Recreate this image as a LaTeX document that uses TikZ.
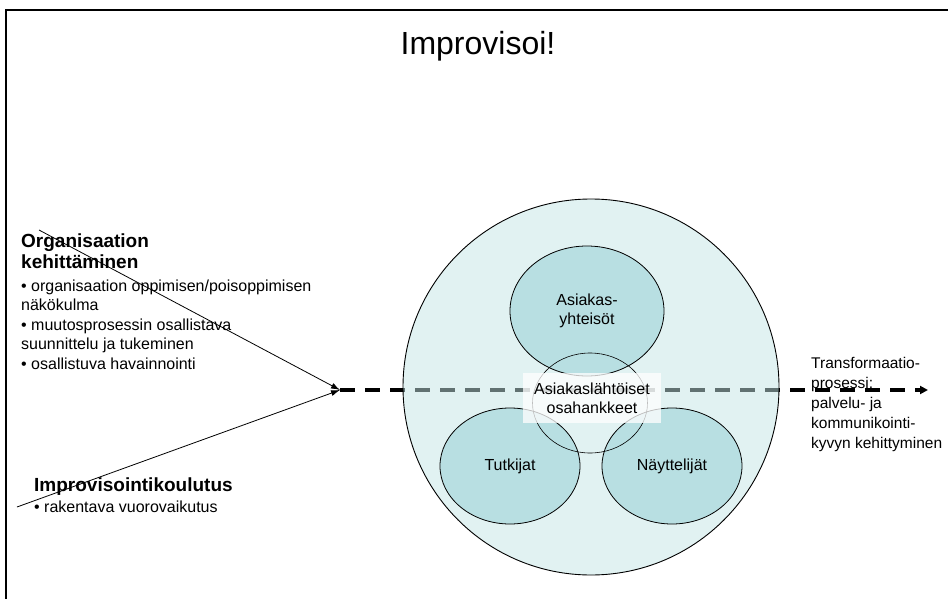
\documentclass[tikz,border=0pt]{standalone}
\usepackage{fontspec}
\setmainfont{Liberation Sans}
\usetikzlibrary{shapes.geometric,arrows.meta}

\definecolor{poolfill}{RGB}{195,229,229}
\definecolor{groupfill}{RGB}{184,223,226}

\begin{document}
\begin{tikzpicture}[x=1pt,y=-1pt,
  pool node/.style={circle,draw,line width=0.9pt,fill=poolfill,fill opacity=0.5,draw opacity=1,minimum size=376pt,inner sep=0pt},
  group node/.style={ellipse,draw,line width=0.8pt,fill=groupfill,inner sep=0pt,align=center,font=\fontsize{16}{19}\selectfont},
  core node/.style={ellipse,draw,line width=0.6pt,inner sep=0pt},
  head text/.style={anchor=base west,align=left,inner sep=0pt,font=\fontsize{19}{20.5}\selectfont\bfseries},
  body text/.style={anchor=base west,align=left,inner sep=0pt,font=\fontsize{16}{19.5}\selectfont}]

  \useasboundingbox (0,0) rectangle (948,599);
  \draw[line width=2pt] (6,599) -- (6,10) -- (948,10);

  \node[anchor=base,inner sep=0pt,font=\fontsize{32}{36}\selectfont] (title) at (478,55) {Improvisoi!};

  % left texts (base = last line)
  \node[head text] (orghead) at (21,268) {Organisaation\\kehittäminen};
  \node[body text] (orgbody) at (21,369) {\textbullet\ organisaation oppimisen/poisoppimisen\\näkökulma\\\textbullet\ muutosprosessin osallistava\\suunnittelu ja tukeminen\\\textbullet\ osallistuva havainnointi};
  \node[head text] (imphead) at (34,491) {Improvisointikoulutus};
  \node[body text] (impbody) at (34,512) {\textbullet\ rakentava vuorovaikutus};

  \coordinate (orgstart) at (39,230);
  \coordinate (impstart) at (17,507);
  \coordinate (hub) at (340,390);
  \coordinate (goal) at (928,390);

  \path[] (hub) [line width=3.2pt,dash pattern=on 15pt off 10pt,-{Triangle[length=8pt,width=8pt]}] edge (goal);

  % pool and groups
  \node[pool node] (pool) at (591,387) {};
  \node[group node,minimum width=154pt,minimum height=130pt] (asiakas) at (587,311) {Asiakas-\\yhteisöt};
  \node[group node,minimum width=140pt,minimum height=116pt] (tutkijat) at (510,466) {Tutkijat};
  \node[group node,minimum width=140pt,minimum height=116pt] (nayttelijat) at (672,466) {Näyttelijät};
  \node[core node,minimum width=115pt,minimum height=100pt] (core) at (590,403) {};
  \node[fill=white,fill opacity=0.75,text opacity=1,minimum width=138pt,minimum height=50pt,inner sep=0pt,align=center,font=\fontsize{16}{19}\selectfont] (osahankkeet) at (592,398) {Asiakaslähtöiset\\osahankkeet};

  \path[] (orgstart) [line width=0.8pt,-{Latex[length=9pt,width=6pt]}] edge (hub);
  \path[] (impstart) [line width=0.8pt,-{Latex[length=9pt,width=6pt]}] edge (hub);

  \node[body text,font=\fontsize{15.5}{20}\selectfont] (muutos) at (811,448) {Transformaatio-\\prosessi;\\palvelu- ja\\kommunikointi-\\kyvyn kehittyminen};
\end{tikzpicture}
\end{document}
